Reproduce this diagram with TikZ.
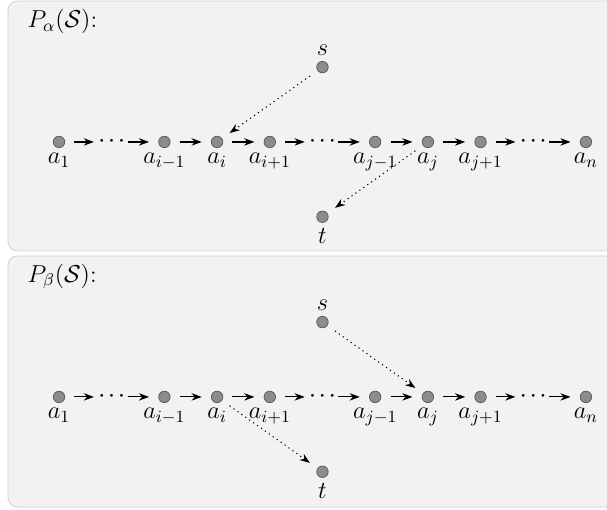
\documentclass[tikz,border=0pt]{standalone}
\usepackage{fix-cm}
\usepackage{amssymb}
\usepackage{xcolor}
\usepackage{tikz}
\usetikzlibrary{arrows.meta,positioning}
\definecolor{PanelGray}{HTML}{F2F2F2}
\definecolor{PanelEdge}{HTML}{CFCFCF}
\definecolor{VertexGray}{HTML}{8C8C8C}
\tikzset{
  pvertex/.style={
    circle,
    draw=black!65,
    fill=VertexGray,
    thin,
    inner sep=0pt,
    minimum size=6.2pt
  },
  pdots/.style={inner sep=0pt, font=\Large},
  pedge/.style={-{Stealth[length=5.5pt,width=4pt]}, semithick, shorten <=5pt, shorten >=5pt},
  pjump/.style={-{Stealth[length=5.5pt,width=4pt]}, dotted, semithick, shorten <=5pt, shorten >=5pt},
  panel/.style={draw=PanelEdge, fill=PanelGray, rounded corners=5pt}
}
\newcommand{\pdotrow}{${\cdot}\hspace{1.4pt}{\cdot}\hspace{1.4pt}{\cdot}$}
\newcommand{\plabelsize}{\fontsize{13.2}{15}\selectfont}

\begin{document}
\begin{tikzpicture}[node distance=1cm, on grid, every label/.style={font=\plabelsize, inner sep=2.6pt}]
  \useasboundingbox (-1.12,2.694) rectangle (10.40,-6.983);
  \draw[panel] (-0.968,2.675) rectangle (10.9,-2.068);
  \draw[panel] (-0.968,-2.163) rectangle (10.9,-6.926);

  % upper panel
  \node[anchor=west, font=\plabelsize] (ttla) at (-0.72,2.283) {$P_\alpha(\mathcal{S})$:};
  \node[pvertex, label=below:$a_1$] (a1) at (0,0) {};
  \node[pdots, right=of a1] (adots1) {\pdotrow};
  \node[pvertex, right=of adots1, label=below:$a_{i-1}$] (aim) {};
  \node[pvertex, right=of aim, label=below:$a_i$] (ai) {};
  \node[pvertex, right=of ai, label=below:$a_{i+1}$] (aip) {};
  \node[pdots, right=of aip] (adots2) {\pdotrow};
  \node[pvertex, right=of adots2, label=below:$a_{j-1}$] (ajm) {};
  \node[pvertex, right=of ajm, label=below:$a_j$] (aj) {};
  \node[pvertex, right=of aj, label=below:$a_{j+1}$] (ajp) {};
  \node[pdots, right=of ajp] (adots3) {\pdotrow};
  \node[pvertex, right=of adots3, label=below:$a_n$] (an) {};
  \node[pvertex, above=1.42cm of adots2, label=above:$s$] (as) {};
  \node[pvertex, below=1.42cm of adots2, label=below:$t$] (at) {};
  \draw[pedge, shorten >=2pt] (a1) -- (adots1);
  \draw[pedge, shorten <=1pt] (adots1) -- (aim);
  \draw[pedge] (aim) -- (ai);
  \draw[pedge] (ai) -- (aip);
  \draw[pedge, shorten >=2pt] (aip) -- (adots2);
  \draw[pedge, shorten <=1pt] (adots2) -- (ajm);
  \draw[pedge] (ajm) -- (aj);
  \draw[pedge] (aj) -- (ajp);
  \draw[pedge, shorten >=2pt] (ajp) -- (adots3);
  \draw[pedge, shorten <=1pt] (adots3) -- (an);
  \draw[pjump] (as) -- (ai);
  \draw[pjump] (aj) -- (at);

  % lower panel
  \node[anchor=west, font=\plabelsize] (ttlb) at (-0.72,-2.556) {$P_\beta(\mathcal{S})$:};
  \node[pvertex, label=below:$a_1$] (b1) at (0,-4.839) {};
  \node[pdots, right=of b1] (bdots1) {\pdotrow};
  \node[pvertex, right=of bdots1, label=below:$a_{i-1}$] (bim) {};
  \node[pvertex, right=of bim, label=below:$a_i$] (bi) {};
  \node[pvertex, right=of bi, label=below:$a_{i+1}$] (bip) {};
  \node[pdots, right=of bip] (bdots2) {\pdotrow};
  \node[pvertex, right=of bdots2, label=below:$a_{j-1}$] (bjm) {};
  \node[pvertex, right=of bjm, label=below:$a_j$] (bj) {};
  \node[pvertex, right=of bj, label=below:$a_{j+1}$] (bjp) {};
  \node[pdots, right=of bjp] (bdots3) {\pdotrow};
  \node[pvertex, right=of bdots3, label=below:$a_n$] (bn) {};
  \node[pvertex, above=1.42cm of bdots2, label=above:$s$] (bs) {};
  \node[pvertex, below=1.42cm of bdots2, label=below:$t$] (bt) {};
  \draw[pedge, shorten >=2pt] (b1) -- (bdots1);
  \draw[pedge, shorten <=1pt] (bdots1) -- (bim);
  \draw[pedge] (bim) -- (bi);
  \draw[pedge] (bi) -- (bip);
  \draw[pedge, shorten >=2pt] (bip) -- (bdots2);
  \draw[pedge, shorten <=1pt] (bdots2) -- (bjm);
  \draw[pedge] (bjm) -- (bj);
  \draw[pedge] (bj) -- (bjp);
  \draw[pedge, shorten >=2pt] (bjp) -- (bdots3);
  \draw[pedge, shorten <=1pt] (bdots3) -- (bn);
  \draw[pjump] (bs) -- (bj);
  \draw[pjump] (bi) -- (bt);
\end{tikzpicture}
\end{document}
